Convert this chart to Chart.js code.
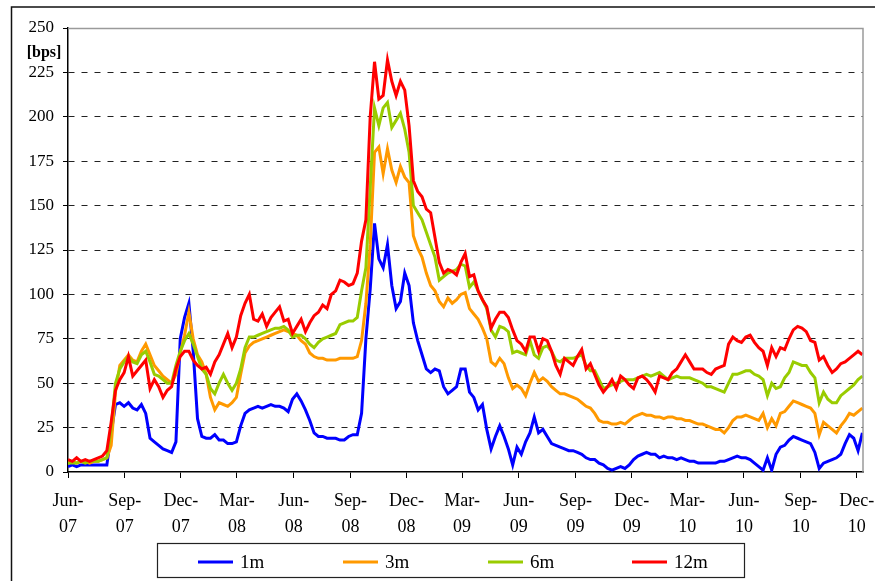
<!DOCTYPE html>
<html><head><meta charset="utf-8">
<script src="https://cdn.jsdelivr.net/npm/chart.js@4.4.1/dist/chart.umd.min.js"></script>
<style>html,body{margin:0;padding:0;background:#fff;}canvas{display:block;}</style>
</head><body>
<canvas id="c" width="875" height="581"></canvas>
<script>
// ---- data (weekly samples starting 2007-06-01) ----
const startDate = '2007-06-01';
const sampleStepDays = 7;
const axisEndDate = '2010-12-11';
const tickDates = ['2007-06-01','2007-09-01','2007-12-01','2008-03-01','2008-06-01','2008-09-01','2008-12-01',
                   '2009-03-01','2009-06-01','2009-09-01','2009-12-01','2010-03-01','2010-06-01','2010-09-01','2010-12-01'];
const tickMonths = ['Jun-','Sep-','Dec-','Mar-','Jun-','Sep-','Dec-','Mar-','Jun-','Sep-','Dec-','Mar-','Jun-','Sep-','Dec-'];
const tickYears  = ['07','07','07','08','08','08','08','09','09','09','09','10','10','10','10'];
const yTickValues = [0,25,50,75,100,125,150,175,200,225,250];
const seriesLabels = ['1m','3m','6m','12m'];
const seriesColors = ['#0000FF','#FF9900','#99CC00','#FF0000'];

const s1m = [3,4,3,4,4,4,4,4,4,4,
  22,38,39,37,39,36,35,38,33,19,
  17,15,13,12,11,17,75,87,95,68,
  30,20,19,19,21,18,18,16,16,17,
  26,33,35,36,37,36,37,38,37,37,
  36,34,41,44,40,35,29,22,20,20,
  19,19,19,18,18,20,21,21,33,75,
  103,140,120,115,128,105,92,96,112,105,
  84,74,66,58,56,58,57,48,44,46,
  48,58,58,45,42,35,38,24,13,20,
  26,20,13,4,14,10,17,22,31,22,
  24,20,16,15,14,13,12,12,11,10,
  8,7,7,5,4,2,1,2,3,2,
  4,7,9,10,11,10,10,8,9,8,
  8,7,8,7,6,6,5,5,5,5,
  5,6,6,7,8,9,8,8,7,5,
  3,1,8,1,10,14,15,18,20,19,
  18,17,16,11,2,5,6,7,8,10,
  16,21,19,12,22];
const s3m = [5,6,5,6,6,5,6,6,7,8,
  15,45,60,63,66,63,62,68,72,66,
  60,57,54,52,50,55,67,77,90,75,
  66,62,55,42,35,39,38,37,39,42,
  55,67,71,73,74,75,76,77,78,79,
  80,79,78,77,74,72,67,65,64,64,
  63,63,63,64,64,64,64,65,74,95,
  128,180,183,168,182,170,163,172,166,163,
  133,126,121,112,105,102,96,93,98,95,
  97,100,101,92,89,86,81,75,62,60,
  64,61,53,47,49,47,43,50,56,51,
  53,51,48,46,44,44,43,42,41,39,
  37,36,33,29,28,28,27,27,28,27,
  29,31,32,33,32,32,31,31,30,31,
  31,30,30,29,29,28,27,27,26,25,
  24,24,22,25,29,31,31,32,31,30,
  29,33,25,30,26,33,34,37,40,39,
  38,37,36,33,21,28,26,24,22,26,
  29,33,32,34,36];
const s6m = [5,5,5,6,5,6,6,6,7,8,
  25,50,58,62,65,62,61,66,68,62,
  55,54,52,50,50,60,68,74,78,72,
  65,58,55,47,44,50,55,50,46,50,
  58,70,76,76,77,78,79,80,81,81,
  82,80,76,77,77,75,72,70,73,75,
  76,77,78,83,84,85,85,87,102,115,
  160,205,195,205,208,194,198,202,193,180,
  150,146,142,135,128,121,108,110,112,113,
  114,117,116,104,107,102,97,92,80,76,
  82,81,79,67,68,67,66,74,66,64,
  70,71,68,63,62,64,64,64,65,66,
  60,57,57,52,47,48,49,50,51,52,
  52,52,53,54,55,54,55,56,54,52,
  53,54,53,53,53,52,51,50,48,48,
  47,46,45,50,55,55,56,57,57,55,
  54,52,43,50,47,48,53,56,62,61,
  60,60,56,53,39,45,41,39,39,43,
  45,47,49,52,54];
const s12m = [7,6,8,6,7,6,7,8,9,12,
  28,46,52,56,65,54,57,60,63,47,
  52,48,42,46,48,58,65,68,68,63,
  60,58,59,55,62,66,72,78,70,76,
  88,95,100,86,85,89,82,87,90,93,
  85,86,78,82,86,79,84,88,90,94,
  92,100,102,108,107,105,106,112,130,142,
  200,231,210,212,232,220,212,220,215,195,
  164,158,155,148,146,132,118,112,114,113,
  111,118,123,110,111,102,97,93,81,86,
  90,90,87,80,74,72,68,76,76,68,
  75,74,68,60,55,64,62,60,65,69,
  58,61,55,49,45,48,52,47,54,52,
  49,47,53,54,52,49,45,54,53,52,
  56,58,62,66,62,58,58,58,56,55,
  58,59,60,72,76,74,73,76,77,73,
  70,68,60,70,65,70,69,75,80,82,
  81,79,74,73,63,65,60,56,58,61,
  62,64,66,68,66];

// ---- helpers ----
const DAY = 86400000;
const dayOffset = d => (Date.parse(d) - Date.parse(startDate)) / DAY;
const tickDays = tickDates.map(dayOffset);
const xMax = dayOffset(axisEndDate);
const toPoints = arr => arr.map((v, i) => ({x: i * sampleStepDays, y: v}));
const seriesValues = [s1m, s3m, s6m, s12m];

const FONT = "'Liberation Serif', 'Times New Roman', serif";

const decorPlugin = {
  id: 'decor',
  afterDraw(chart) {
    const {ctx, chartArea: a} = chart;
    ctx.save();
    // grey plot-area border (top & right)
    ctx.strokeStyle = '#9a9a9a';
    ctx.lineWidth = 1.5;
    ctx.beginPath();
    ctx.moveTo(a.left, a.top + 0.5);
    ctx.lineTo(a.right, a.top + 0.5);
    ctx.lineTo(a.right, a.bottom);
    ctx.stroke();
    // outer frame
    ctx.strokeStyle = '#111';
    ctx.lineWidth = 1.5;
    ctx.beginPath();
    ctx.moveTo(11.5, 581);
    ctx.lineTo(11.5, 7);
    ctx.lineTo(875, 7);
    ctx.stroke();
    // unit label
    ctx.fillStyle = '#000';
    ctx.font = "bold 16px " + FONT;
    ctx.textAlign = 'center';
    ctx.textBaseline = 'middle';
    ctx.fillText('[bps]', 44, 53);
    // legend box
    const bx = 157, by = 543, bw = 587, bh = 34;
    ctx.strokeStyle = '#222';
    ctx.lineWidth = 1.2;
    ctx.strokeRect(bx + 0.5, by + 0.5, bw, bh);
    const itemX = [198, 343, 488, 632];
    const cy = 562;
    ctx.font = "19px " + FONT;
    ctx.textAlign = 'left';
    chart.data.datasets.forEach((ds, i) => {
      ctx.strokeStyle = ds.borderColor;
      ctx.lineWidth = 3;
      ctx.beginPath();
      ctx.moveTo(itemX[i], cy);
      ctx.lineTo(itemX[i] + 35, cy);
      ctx.stroke();
      ctx.fillStyle = '#000';
      ctx.fillText(ds.label, itemX[i] + 42, cy + 1);
    });
    ctx.restore();
  }
};

const orders = [3, 2, 1, 0];
new Chart(document.getElementById('c'), {
  type: 'line',
  data: {
    datasets: seriesValues.map((vals, i) => ({
      label: seriesLabels[i],
      data: toPoints(vals),
      borderColor: seriesColors[i],
      backgroundColor: seriesColors[i],
      borderWidth: 3,
      pointRadius: 0,
      tension: 0,
      fill: false,
      order: orders[i]
    }))
  },
  options: {
    responsive: false,
    animation: false,
    devicePixelRatio: 1,
    layout: {padding: {top: 28, right: 12, bottom: 44, left: 0}},
    plugins: {legend: {display: false}, tooltip: {enabled: false}},
    scales: {
      x: {
        type: 'linear',
        min: 0,
        max: xMax,
        afterBuildTicks: s => { s.ticks = tickDays.map(v => ({value: v})); },
        afterFit: s => { s.height = 65; s.paddingLeft = 0; s.paddingRight = 0; },
        ticks: {
          autoSkip: false,
          maxRotation: 0,
          padding: 11,
          color: '#000',
          font: {family: FONT, size: 18, lineHeight: 1.4},
          callback: v => { const i = tickDays.indexOf(v); return i >= 0 ? [tickMonths[i], tickYears[i]] : ''; }
        },
        grid: {drawOnChartArea: false, tickLength: 6, color: '#000', tickColor: '#000'},
        border: {display: true, color: '#000', width: 1.5}
      },
      y: {
        min: 0,
        max: 250,
        afterBuildTicks: s => { s.ticks = yTickValues.map(v => ({value: v})); },
        afterFit: s => { s.width = 68; },
        ticks: {padding: 9, color: '#000', font: {family: FONT, size: 17}},
        grid: {
          color: c => (c.tick && (c.tick.value === 0 || c.tick.value === 250)) ? 'rgba(0,0,0,0)' : '#222',
          tickBorderDash: [],
          tickColor: '#000',
          tickLength: 5,
          lineWidth: 1
        },
        border: {display: true, color: '#000', width: 1.5, dash: [6, 7]}
      }
    }
  },
  plugins: [decorPlugin]
});
</script>
</body></html>
